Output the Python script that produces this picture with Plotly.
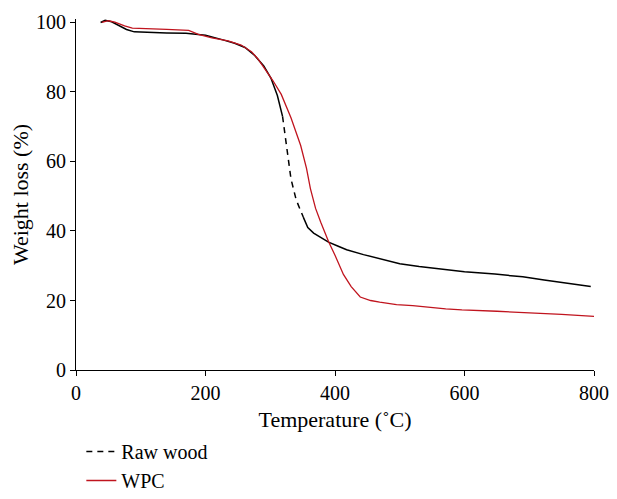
import plotly.graph_objects as go

# Raw wood TGA curve, split where the reference switches to dashes
raw_t1 = [38, 45, 55, 65, 78, 90, 110, 140, 170, 200, 227, 245, 261, 276, 290, 301, 311, 319]
raw_w1 = [100.0, 100.6, 100.2, 99.3, 98.0, 97.3, 97.1, 97.0, 96.9, 96.3, 95.0, 94.0, 92.8, 90.5, 87.5, 84.0, 79.0, 73.0]
raw_t2 = [319, 325, 332, 340, 346, 351]
raw_w2 = [73.0, 64.0, 55.0, 49.0, 46.0, 44.0]
raw_t3 = [351, 358, 367, 378, 390, 405, 418, 444, 470, 500, 530, 571, 600, 647, 690, 723, 760, 795]
raw_w3 = [44.0, 41.0, 39.4, 38.2, 36.8, 35.6, 34.6, 33.2, 32.0, 30.6, 29.8, 29.0, 28.3, 27.6, 26.8, 25.9, 25.0, 24.0]

# WPC curve
wpc_t = [40, 50, 60, 75, 87, 110, 140, 174, 189, 210, 235, 255, 271, 281, 291, 304, 317, 332, 347, 356,
         362, 370, 378, 390, 400, 413, 425, 439, 455, 469, 495, 520, 571, 596, 650, 698, 750, 802]
wpc_w = [100.0, 100.5, 100.1, 99.0, 98.4, 98.3, 98.0, 97.7, 96.6, 95.6, 94.7, 93.5, 91.6, 89.5, 86.9, 83.3, 79.3, 72.6, 64.6, 58.0,
         52.2, 46.5, 42.5, 37.0, 33.0, 27.5, 24.0, 21.0, 20.0, 19.5, 18.8, 18.5, 17.6, 17.3, 16.9, 16.5, 16.0, 15.4]

x_ticks = [0, 200, 400, 600, 800]
y_ticks = [0, 20, 40, 60, 80, 100]

FONT = "Liberation Serif"

fig = go.Figure()
fig.add_trace(go.Scatter(x=raw_t1, y=raw_w1, mode="lines", showlegend=False,
                         line=dict(color="black", width=1.5)))
fig.add_trace(go.Scatter(x=raw_t2, y=raw_w2, mode="lines", name="Raw wood",
                         line=dict(color="black", width=1.5, dash="6px,5px")))
fig.add_trace(go.Scatter(x=raw_t3, y=raw_w3, mode="lines", showlegend=False,
                         line=dict(color="black", width=1.5)))
fig.add_trace(go.Scatter(x=wpc_t, y=wpc_w, mode="lines", name="WPC",
                         line=dict(color="#c0141e", width=1.3)))

# page body has an 8px margin: keep the figure inside the window (no scrollbars)
fig.update_layout(
    width=601, height=483,
    margin=dict(l=68, r=15, t=11, b=121, autoexpand=False),
    paper_bgcolor="white", plot_bgcolor="white",
    font=dict(family=FONT, size=18, color="black"),
    legend=dict(x=0.0103, xanchor="left", yref="container", y=1 - 424 / 483, yanchor="top",
                font=dict(size=20), tracegroupgap=0, bgcolor="rgba(0,0,0,0)"),
)
fig.update_xaxes(range=[0, 800], tickvals=x_ticks, showgrid=False, zeroline=False,
                 showline=True, linecolor="black", linewidth=1.2, automargin=False,
                 ticks="outside", ticklen=5, tickcolor="black", tickfont=dict(size=20),
                 title=dict(text="Temperature (˚C)", standoff=9))
fig.update_yaxes(range=[0, 101], tickvals=y_ticks, showgrid=False, zeroline=False,
                 showline=True, linecolor="black", linewidth=1.2, automargin=False,
                 ticks="outside", ticklen=5, tickcolor="black", tickfont=dict(size=20),
                 title=dict(text="Weight loss (%)", standoff=8))

fig.write_html("out.html")
